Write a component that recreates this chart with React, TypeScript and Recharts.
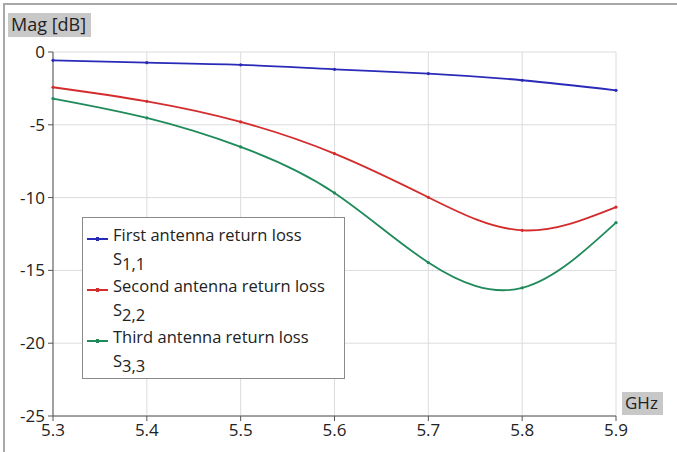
import React from "react";
import { LineChart, Line, XAxis, YAxis, CartesianGrid, Legend } from "recharts";

const freqs = [5.3, 5.4, 5.5, 5.6, 5.7, 5.8, 5.9];
const s11 = [-0.57, -0.73, -0.88, -1.19, -1.48, -1.94, -2.63];
const s22 = [-2.42, -3.39, -4.8, -6.98, -9.98, -12.25, -10.65];
const s33 = [-3.2, -4.53, -6.52, -9.68, -14.46, -16.2, -11.72];
const xTicks = [5.3, 5.4, 5.5, 5.6, 5.7, 5.8, 5.9];
const yTicks = [0, -5, -10, -15, -20, -25];

const seriesNames = ["First antenna return loss", "Second antenna return loss", "Third antenna return loss"];
const seriesSubs = ["1,1", "2,2", "3,3"];
const colors = ["#2a2ab8", "#d42c2c", "#1f8a5a"];

const data = freqs.map((f, i) => ({ f, s11: s11[i], s22: s22[i], s33: s33[i] }));

const FONT = "'Open Sans', sans-serif";

const LegendBox = () => (
  <div
    style={{
      width: 263,
      height: 162,
      boxSizing: "border-box",
      border: "1px solid #8a8a8a",
      background: "#fff",
      position: "relative",
      fontFamily: FONT,
      fontSize: 16.5,
      color: "#222",
    }}
  >
    {seriesNames.map((name, i) => (
      <React.Fragment key={name}>
        <div style={{ position: "absolute", left: 4, top: 20 + i * 51, width: 21, height: 2, background: colors[i] }} />
        <div style={{ position: "absolute", left: 13, top: 19 + i * 51, width: 3, height: 4, background: colors[i] }} />
        <div style={{ position: "absolute", left: 30, top: 6 + i * 51, whiteSpace: "nowrap", lineHeight: "22px" }}>{name}</div>
        <div style={{ position: "absolute", left: 30, top: 30 + i * 51, whiteSpace: "nowrap", lineHeight: "22px" }}>
          S<span style={{ position: "relative", top: 5 }}>{seriesSubs[i]}</span>
        </div>
      </React.Fragment>
    ))}
  </div>
);

const MagLabel = () => (
  <g>
    <rect x={8} y={13} width={83} height={24} fill="#c8c8c8" />
    <text x={11} y={31} fontFamily={FONT} fontSize={18} fill="#222">Mag [dB]</text>
  </g>
);

const GhzLabel = () => (
  <g>
    <rect x={622} y={392} width={41} height={23} fill="#c8c8c8" />
    <text x={625} y={409} fontFamily={FONT} fontSize={17} fill="#222">GHz</text>
  </g>
);

export default function App() {
  return (
    <div style={{ position: "fixed", left: 0, top: 0, width: 677, height: 452, background: "#fff" }}>
      <div style={{ position: "absolute", left: 3, top: 3, width: 674, height: 449, borderTop: "2px solid #a8a8a8", borderLeft: "2px solid #a8a8a8", boxSizing: "border-box" }} />
      <LineChart width={677} height={452} data={data} margin={{ top: 52, right: 61, bottom: 0, left: 0 }} style={{ position: "absolute", left: 0, top: 0 }}>
        <CartesianGrid stroke="#dcdcdc" strokeWidth={1} />
        <XAxis
          dataKey="f"
          type="number"
          domain={[5.3, 5.9]}
          ticks={xTicks}
          tickFormatter={(v: number) => v.toFixed(1)}
          height={36}
          stroke="#555"
          tickSize={5}
          tick={{ fill: "#222", fontSize: 17, fontFamily: FONT }}
          tickMargin={3}
          label={<GhzLabel />}
        />
        <YAxis
          type="number"
          domain={[-25, 0]}
          ticks={yTicks}
          width={53}
          stroke="#555"
          tickSize={5}
          tickMargin={3}
          tick={{ fill: "#222", fontSize: 17, fontFamily: FONT }}
          label={<MagLabel />}
        />
        <Legend
          layout="horizontal"
          verticalAlign="middle"
          align="center"
          content={<LegendBox />}
          wrapperStyle={{ position: "absolute", left: 82, top: 217, width: 263, height: 162 }}
        />
        {["s11", "s22", "s33"].map((k, i) => (
          <Line
            key={k}
            dataKey={k}
            name={seriesNames[i]}
            type="natural"
            stroke={colors[i]}
            strokeWidth={1.8}
            dot={{ r: 1.6, fill: colors[i], stroke: colors[i], strokeWidth: 0 }}
            activeDot={false}
            isAnimationActive={false}
          />
        ))}
      </LineChart>
    </div>
  );
}
